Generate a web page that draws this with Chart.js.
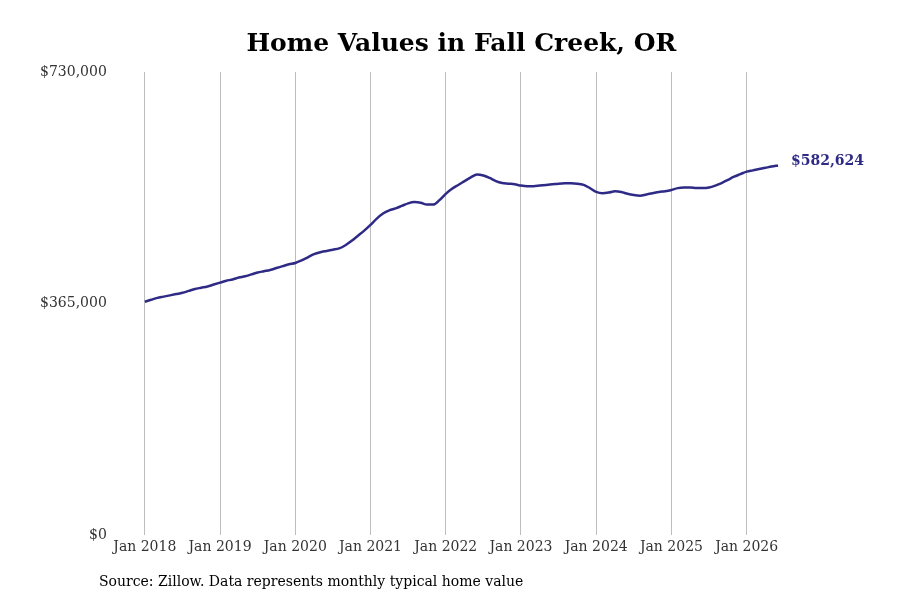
<!DOCTYPE html>
<html>
<head>
<meta charset="utf-8">
<script src="https://cdn.jsdelivr.net/npm/chart.js@4"></script>
<style>
  html, body { margin: 0; padding: 0; background: #fff; }
  #wrap { width: 900px; height: 600px; }
</style>
</head>
<body>
<div id="wrap"><canvas id="homeChart" width="900" height="600"></canvas></div>
<script>
// monthly typical home value, Jan 2018 .. Jun 2026
const years = [2018, 2019, 2020, 2021, 2022, 2023, 2024, 2025, 2026];
const months = ["Jan", "Feb", "Mar", "Apr", "May", "Jun", "Jul", "Aug", "Sep", "Oct", "Nov", "Dec"];

const values2018 = [368000, 371000, 374000, 376000, 378000, 380000, 382000, 385000, 388000, 390000, 392000, 395000];
const values2019 = [398000, 401000, 403000, 406000, 408000, 411000, 414000, 416000, 418000, 421000, 424000, 427000];
const values2020 = [429000, 433000, 438000, 443000, 446000, 448000, 450000, 452000, 457000, 464000, 472000, 480000];
const values2021 = [489000, 499000, 507000, 512000, 515000, 519000, 523000, 525000, 524000, 521000, 521000, 528000];
const values2022 = [538000, 546000, 552000, 558000, 564000, 568500, 567000, 563000, 558000, 555000, 554000, 553000];
const values2023 = [551000, 550000, 550000, 551000, 552000, 553000, 554000, 554500, 554500, 554000, 552000, 547000];
const values2024 = [541000, 539000, 540000, 542000, 541000, 538000, 536000, 535000, 537000, 539000, 541000, 542000];
const values2025 = [544000, 547000, 548000, 548000, 547000, 547000, 548000, 551000, 555000, 560000, 565000, 569000];
const values2026 = [573000, 575000, 577000, 579000, 581000, 582624];

const yTicks = [0, 365000, 730000];

const title = "Home Values in Fall Creek, OR";
const source = "Source: Zillow. Data represents monthly typical home value";

const values = [].concat(values2018, values2019, values2020, values2021, values2022,
                         values2023, values2024, values2025, values2026);
const labels = values.map((v, i) => months[i % 12] + " " + years[Math.floor(i / 12)]);

const lineColor = "#2e2a86";
const serif = "'DejaVu Serif', serif";

const money = v => "$" + v.toLocaleString("en-US");

// title over the plot area, end label and footnote
const extras = {
  id: "extras",
  afterDraw(chart) {
    const ctx = chart.ctx;
    const area = chart.chartArea;
    ctx.save();
    ctx.fillStyle = "#000";
    ctx.font = "bold 25px " + serif;
    ctx.textAlign = "center";
    ctx.textBaseline = "middle";
    ctx.fillText(title, (area.left + area.right) / 2, 44);

    const meta = chart.getDatasetMeta(0);
    const last = meta.data[meta.data.length - 1];
    ctx.fillStyle = lineColor;
    ctx.font = "bold 14px " + serif;
    ctx.textAlign = "left";
    ctx.fillText(money(values[values.length - 1]), last.x + 13, last.y - 4);

    ctx.fillStyle = "#000";
    ctx.font = "14px " + serif;
    ctx.fillText(source, 99, 582);
    ctx.restore();
  }
};

new Chart(document.getElementById("homeChart").getContext("2d"), {
  type: "line",
  data: {
    labels: labels,
    datasets: [{
      data: values,
      borderColor: lineColor,
      borderWidth: 2.5,
      pointRadius: 0,
      fill: false,
      cubicInterpolationMode: "monotone"
    }]
  },
  options: {
    responsive: false,
    animation: false,
    layout: { padding: { top: 72, right: 122, bottom: 40, left: 10 } },
    plugins: {
      legend: { display: false },
      title: { display: false },
      tooltip: { enabled: false }
    },
    scales: {
      x: {
        offset: false,
        border: { display: false },
        grid: {
          color: c => (c.index % 12 === 0 ? "#bdbdbd" : "rgba(0,0,0,0)"),
          drawTicks: false
        },
        ticks: {
          autoSkip: false,
          maxRotation: 0,
          padding: 4,
          color: "#333",
          font: { family: serif, size: 14 },
          callback: (v, i) => (i % 12 === 0 ? labels[i] : "")
        }
      },
      y: {
        min: 0,
        max: 730000,
        border: { display: false },
        grid: { display: false },
        afterBuildTicks: axis => { axis.ticks = yTicks.map(v => ({ value: v })); },
        ticks: {
          padding: 30,
          color: "#333",
          font: { family: serif, size: 14 },
          callback: v => money(v)
        }
      }
    }
  },
  plugins: [extras]
});
</script>
</body>
</html>
